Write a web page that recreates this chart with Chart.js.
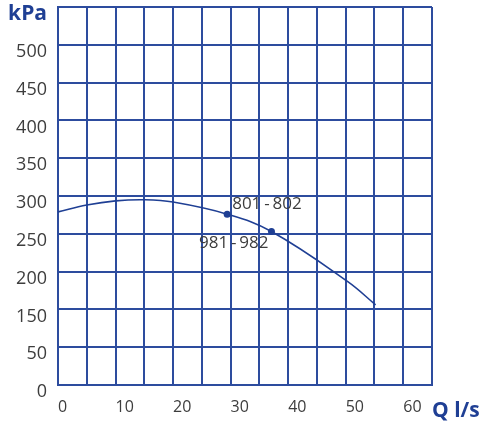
<!DOCTYPE html>
<html>
<head>
<meta charset="utf-8">
<script src="https://cdn.jsdelivr.net/npm/chart.js@4/dist/chart.umd.min.js"></script>
<style>
html,body{margin:0;padding:0;background:#fff;}
#wrap{width:486px;height:424px;position:relative;}
</style>
</head>
<body>
<div id="wrap"><canvas id="c"></canvas></div>
<script>
// Pump curve (Q in l/s, pressure in scale units of the y axis)
const flowQ = [0, 5, 10, 15, 20, 29.4, 37.1, 50.3, 55.2];
const pressure = [229, 238, 243.5, 245, 242, 226, 203, 137, 106];

// Marked duty points
const dutyQ = [29.4, 37.1];
const dutyP = [226, 203];
const dutyNames = ['801\u2009-\u2009802', '981\u2009-\u2009982'];

// Tick labels as printed on the chart
const yTickLabels = ['0', '50', '150', '200', '250', '300', '350', '400', '450', '500', 'kPa'];
const xTickLabels = ['0', '', '10', '', '20', '', '30', '', '40', '', '50', '', '60', 'Q l/s'];

const BLUE = '#1f3f94';
const GRID = '#2d4c9e';
const TXT = '#3d3d3d';

const pointLabels = {
  id: 'pointLabels',
  afterDatasetsDraw(chart) {
    const meta = chart.getDatasetMeta(1);
    const ctx = chart.ctx;
    ctx.save();
    ctx.font = '17px "Open Sans"';
    ctx.fillStyle = TXT;
    ctx.textBaseline = 'alphabetic';
    meta.data.forEach((pt, i) => {
      if (i === 0) {
        ctx.textAlign = 'left';
        ctx.fillText(dutyNames[i], pt.x + 5, pt.y - 5);
      } else {
        ctx.textAlign = 'right';
        ctx.fillText(dutyNames[i], pt.x - 3, pt.y + 16);
      }
    });
    ctx.restore();
  }
};

new Chart(document.getElementById('c'), {
  type: 'scatter',
  data: {
    datasets: [
      {
        type: 'line',
        data: flowQ.map((q, i) => ({x: q, y: pressure[i]})),
        borderColor: BLUE,
        borderWidth: 1.6,
        pointRadius: 0,
        tension: 0.4,
        fill: false
      },
      {
        data: dutyQ.map((q, i) => ({x: q, y: dutyP[i]})),
        backgroundColor: BLUE,
        borderColor: BLUE,
        pointRadius: 3.5,
        borderWidth: 0
      }
    ]
  },
  options: {
    responsive: true,
    maintainAspectRatio: false,
    animation: false,
    layout: {padding: {top: 7, right: 54, left: 0, bottom: 0}},
    plugins: {legend: {display: false}, tooltip: {enabled: false}},
    scales: {
      x: {
        type: 'linear',
        min: 0, max: 65,
        afterBuildTicks: s => { s.ticks = xTickLabels.map((_, i) => ({value: i * 5})); },
        afterFit: s => { s.height = 39; s.paddingLeft = 0; s.paddingRight = 0; },
        grid: {color: GRID, lineWidth: 2, drawTicks: false},
        border: {color: GRID, width: 2},
        ticks: {
          autoSkip: false,
          maxRotation: 0,
          align: 'start',
          padding: 13,
          callback: (v, i) => xTickLabels[i],
          color: c => c.index === xTickLabels.length - 1 ? BLUE : TXT,
          font: c => c.index === xTickLabels.length - 1
            ? {family: '"Open Sans"', size: 21, weight: 'bold'}
            : {family: '"Open Sans"', size: 16}
        }
      },
      y: {
        type: 'linear',
        min: 0, max: 500,
        afterBuildTicks: s => { s.ticks = yTickLabels.map((_, i) => ({value: i * 50})); },
        afterFit: s => { s.width = 58; s.paddingTop = 0; s.paddingBottom = 0; },
        grid: {color: GRID, lineWidth: 2, drawTicks: false},
        border: {color: GRID, width: 2},
        ticks: {
          autoSkip: false,
          padding: 11,
          labelOffset: 7,
          callback: (v, i) => yTickLabels[i],
          color: c => c.index === yTickLabels.length - 1 ? BLUE : TXT,
          font: c => c.index === yTickLabels.length - 1
            ? {family: '"Open Sans"', size: 21, weight: 'bold'}
            : {family: '"Open Sans"', size: 18}
        }
      }
    }
  },
  plugins: [pointLabels]
});
</script>
</body>
</html>
